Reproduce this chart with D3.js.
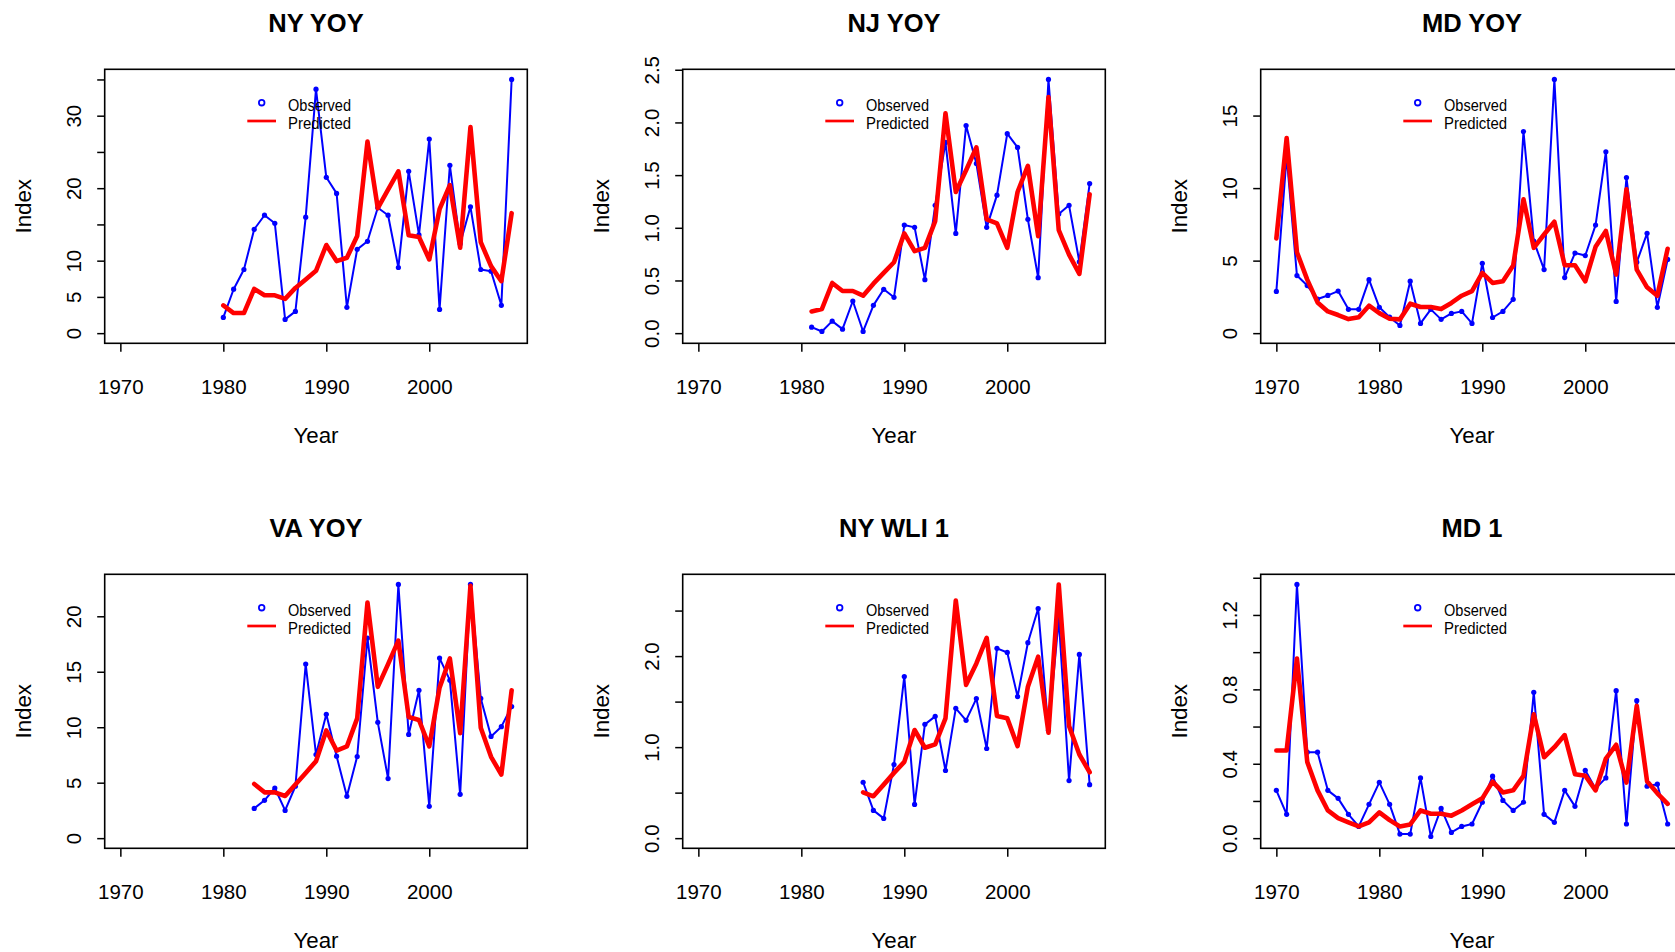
<!DOCTYPE html>
<html>
<head>
<meta charset="utf-8">
<script src="https://cdn.jsdelivr.net/npm/d3@7"></script>
<style>
  body {margin: 0; background: #fff;}
  svg {display: block; font-family: "Liberation Sans", Arial, sans-serif;}
</style>
</head>
<body>
<div id="graph"></div>
<script>
// one panel per survey index, observed vs predicted by year
var titles = ['NY YOY', 'NJ YOY', 'MD YOY', 'VA YOY', 'NY WLI 1', 'MD 1']
var firstYears = [1980, 1981, 1970, 1983, 1986, 1970]

var nyYoyObs  = [2.17, 6.06, 8.78, 14.33, 16.27, 15.16, 1.9, 3.0, 16.0, 33.66, 21.5, 19.28, 3.56, 11.56, 12.67, 17.3, 16.27, 9.06, 22.33, 13.55, 26.77, 3.28, 23.16, 12.34, 17.43, 8.78, 8.55, 3.84, 35.0]
var nyYoyPred = [3.84, 2.77, 2.77, 6.1, 5.22, 5.22, 4.72, 6.24, 7.4, 8.6, 12.16, 9.94, 10.4, 13.41, 26.44, 17.24, 19.79, 22.33, 13.5, 13.27, 10.17, 17.1, 20.43, 11.79, 28.43, 12.57, 9.25, 7.17, 16.55]

var njYoyObs  = [0.057, 0.016, 0.114, 0.038, 0.305, 0.016, 0.264, 0.416, 0.34, 1.026, 1.004, 0.508, 1.213, 1.81, 0.947, 1.97, 1.61, 1.004, 1.31, 1.893, 1.763, 1.08, 0.527, 2.408, 1.13, 1.213, 0.677, 1.42]
var njYoyPred = [0.206, 0.229, 0.476, 0.4, 0.4, 0.356, 0.47, 0.572, 0.673, 0.947, 0.778, 0.81, 1.064, 2.087, 1.34, 1.547, 1.763, 1.08, 1.042, 0.81, 1.34, 1.588, 0.921, 2.24, 0.978, 0.746, 0.562, 1.318]

var mdYoyObs  = [2.88, 12.2, 3.97, 3.28, 2.35, 2.6, 2.9, 1.64, 1.64, 3.69, 1.78, 1.1, 0.53, 3.58, 0.67, 1.64, 0.95, 1.36, 1.5, 0.67, 4.82, 1.08, 1.5, 2.33, 13.9, 6.35, 4.38, 17.49, 3.83, 5.52, 5.35, 7.45, 12.5, 2.19, 10.73, 4.89, 6.88, 1.78, 5.08]
var mdYoyPred = [6.53, 13.45, 5.58, 3.69, 2.12, 1.5, 1.25, 0.97, 1.1, 1.89, 1.38, 0.99, 0.95, 2.03, 1.8, 1.8, 1.66, 2.08, 2.58, 2.9, 4.15, 3.46, 3.58, 4.66, 9.23, 5.88, 6.8, 7.68, 4.68, 4.68, 3.58, 5.95, 7.04, 4.04, 9.92, 4.38, 3.16, 2.58, 5.82]

var vaYoyObs  = [2.68, 3.41, 4.52, 2.5, 4.68, 15.69, 7.54, 11.16, 7.39, 3.77, 7.36, 18.04, 10.44, 5.37, 22.87, 9.35, 13.33, 2.87, 16.23, 14.24, 3.95, 22.87, 12.6, 9.17, 10.05, 11.86]
var vaYoyPred = [4.89, 4.13, 4.13, 3.8, 4.83, 5.88, 6.94, 9.71, 7.9, 8.27, 10.8, 21.24, 13.64, 15.69, 17.8, 10.92, 10.65, 8.27, 13.57, 16.2, 9.47, 22.75, 9.95, 7.33, 5.73, 13.33]

var nyWliObs  = [0.614, 0.305, 0.217, 0.809, 1.776, 0.371, 1.25, 1.338, 0.743, 1.426, 1.294, 1.533, 0.985, 2.085, 2.04, 1.555, 2.147, 2.522, 1.184, 2.408, 0.632, 2.018, 0.588]
var nyWliPred = [0.504, 0.46, 0.588, 0.717, 0.838, 1.188, 0.993, 1.03, 1.316, 2.61, 1.684, 1.919, 2.2, 1.342, 1.316, 1.011, 1.662, 1.993, 1.158, 2.787, 1.232, 0.919, 0.724]

var md1Obs  = [0.257, 0.128, 1.364, 0.462, 0.462, 0.257, 0.214, 0.128, 0.063, 0.182, 0.3, 0.182, 0.022, 0.022, 0.324, 0.009, 0.16, 0.031, 0.063, 0.076, 0.193, 0.333, 0.203, 0.149, 0.193, 0.784, 0.128, 0.085, 0.257, 0.171, 0.365, 0.266, 0.324, 0.793, 0.076, 0.739, 0.279, 0.29, 0.076]
var md1Pred = [0.471, 0.471, 0.966, 0.41, 0.257, 0.149, 0.108, 0.085, 0.063, 0.085, 0.139, 0.097, 0.063, 0.074, 0.149, 0.131, 0.131, 0.121, 0.149, 0.182, 0.214, 0.304, 0.246, 0.257, 0.335, 0.666, 0.435, 0.489, 0.554, 0.344, 0.336, 0.257, 0.428, 0.502, 0.299, 0.711, 0.306, 0.241, 0.184]

var obsSeries  = [nyYoyObs, njYoyObs, mdYoyObs, vaYoyObs, nyWliObs, md1Obs]
var predSeries = [nyYoyPred, njYoyPred, mdYoyPred, vaYoyPred, nyWliPred, md1Pred]

var xLim = [1970, 2008]
var xTicks = [1970, 1980, 1990, 2000]

// R drops labels that would collide, so ticks and labels differ
var yTicks = [
  [0, 5, 10, 15, 20, 25, 30, 35],
  [0, 0.5, 1, 1.5, 2, 2.5],
  [0, 5, 10, 15],
  [0, 5, 10, 15, 20],
  [0, 0.5, 1, 1.5, 2, 2.5],
  [0, 0.2, 0.4, 0.6, 0.8, 1, 1.2, 1.4]
]
var yLabels = [
  [0, 5, 10, 20, 30],
  [0, 0.5, 1, 1.5, 2, 2.5],
  [0, 5, 10, 15],
  [0, 5, 10, 15, 20],
  [0, 1, 2],
  [0, 0.4, 0.8, 1.2]
]
var yFormats = ['d', '.1f', 'd', 'd', '.1f', '.1f']

var W = 422.6, H = 274
var colStep = 578, rowStep = 505
var left0 = 104.7, top0 = 69.3

var panels = titles.map((t, i) => ({
  title: t, first: firstYears[i], obs: obsSeries[i], pred: predSeries[i],
  ticks: yTicks[i], labels: yLabels[i], fmt: d3.format(yFormats[i]),
  col: i % 3, row: Math.floor(i / 3)
}))

var svg = d3.select('#graph').append('svg')
  .attr('width', 1675).attr('height', 952)

svg.selectAll('g.panel').data(panels).join('g')
  .attr('class', 'panel')
  .attr('transform', d => `translate(${left0 + d.col*colStep},${top0 + d.row*rowStep})`)
  .each(drawPanel)

function drawPanel(p){
  var g = d3.select(this)

  var pad = 0.04*(xLim[1] - xLim[0])
  var x = d3.scaleLinear().domain([xLim[0] - pad, xLim[1] + pad]).range([0, W])
  var top = d3.max(p.obs.concat(p.pred))
  var y = d3.scaleLinear().domain([-0.04*top, top*1.04]).range([H, 0])

  var obs = p.obs.map((v, i) => ({year: p.first + i, v}))
  var pred = p.pred.map((v, i) => ({year: p.first + i, v}))

  // x axis
  var xa = g.append('g')
    .attr('transform', `translate(0,${H})`)
    .call(d3.axisBottom(x).tickValues(xTicks).tickSize(8.4).tickFormat(d3.format('d')))
  xa.select('.domain').remove()
  xa.selectAll('line').attr('stroke', '#000').attr('stroke-width', 1.5)
  xa.selectAll('text')
    .attr('y', 50.7).attr('dy', 0)
    .attr('fill', '#000')
    .style('font-size', '20.5px')
    .style('font-family', '"Liberation Sans", Arial, sans-serif')

  // y axis, labels turned like R's las = 0
  var ya = g.append('g')
    .call(d3.axisLeft(y).tickValues(p.ticks).tickSize(7.5)
      .tickFormat(d => p.labels.includes(d) ? p.fmt(d) : ''))
  ya.select('.domain').remove()
  ya.selectAll('line').attr('stroke', '#000').attr('stroke-width', 1.5)
  ya.selectAll('text')
    .attr('x', 0).attr('dy', 0)
    .attr('transform', 'translate(-23.7,0) rotate(-90)')
    .attr('text-anchor', 'middle')
    .attr('fill', '#000')
    .style('font-size', '20.5px')
    .style('font-family', '"Liberation Sans", Arial, sans-serif')

  var line = d3.line().x(d => x(d.year)).y(d => y(d.v))

  g.append('path').datum(obs)
    .attr('d', line).attr('fill', 'none')
    .attr('stroke', '#0000ff').attr('stroke-width', 2)
    .attr('stroke-linejoin', 'round')

  g.selectAll('circle.obs').data(obs).join('circle')
    .attr('class', 'obs')
    .attr('cx', d => x(d.year)).attr('cy', d => y(d.v))
    .attr('r', 2.6).attr('fill', '#0000ff')

  g.append('path').datum(pred)
    .attr('d', line).attr('fill', 'none')
    .attr('stroke', '#ff0000').attr('stroke-width', 4.6)
    .attr('stroke-linejoin', 'round').attr('stroke-linecap', 'round')

  g.append('rect')
    .attr('width', W).attr('height', H)
    .attr('fill', 'none').attr('stroke', '#000').attr('stroke-width', 1.6)

  // legend (no box)
  var lg = g.append('g')
  lg.append('circle').attr('cx', 157).attr('cy', 33.4).attr('r', 2.8)
    .attr('fill', '#fff').attr('stroke', '#0000ff').attr('stroke-width', 1.8)
  lg.append('line').attr('x1', 142.6).attr('x2', 171.3).attr('y1', 51.7).attr('y2', 51.7)
    .attr('stroke', '#ff0000').attr('stroke-width', 2.7)
  lg.selectAll('text').data(['Observed', 'Predicted']).join('text')
    .attr('x', 183.3).attr('y', (d, i) => 41.7 + i*18)
    .attr('textLength', 63).attr('lengthAdjust', 'spacingAndGlyphs')
    .style('font-size', '16.3px')
    .text(d => d)

  g.append('text')
    .attr('x', W/2).attr('y', -37)
    .attr('text-anchor', 'middle')
    .style('font-size', '25.5px').style('font-weight', 'bold')
    .text(p.title)

  g.append('text')
    .attr('x', W/2).attr('y', 374)
    .attr('text-anchor', 'middle')
    .style('font-size', '22.3px')
    .text('Year')

  g.append('text')
    .attr('transform', `translate(-74,${H/2}) rotate(-90)`)
    .attr('text-anchor', 'middle')
    .style('font-size', '22.3px')
    .text('Index')
}
</script>
</body>
</html>
